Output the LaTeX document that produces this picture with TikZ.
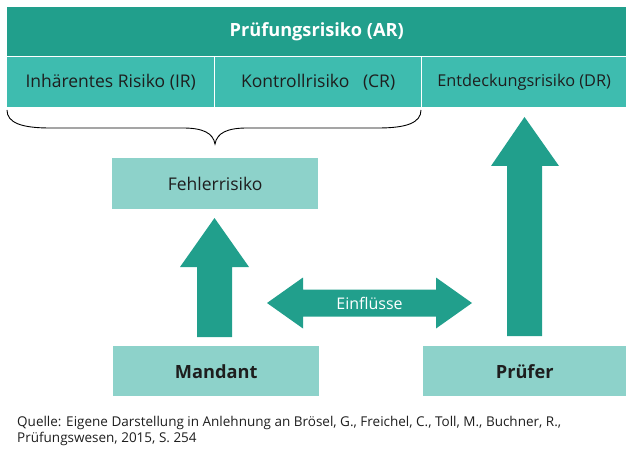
\documentclass[tikz,border=0pt]{standalone}
\usepackage{fontspec}
\setmainfont{Open Sans}
\usetikzlibrary{calc}
\definecolor{tealdark}{RGB}{33,159,140}
\definecolor{tealmid}{RGB}{62,188,175}
\definecolor{teallight}{RGB}{141,210,202}
\definecolor{txtdark}{RGB}{30,30,30}
\tikzset{
  cell/.style={rectangle, inner sep=0pt, anchor=north west},
  darkcell/.style={cell, fill=tealdark, text=white, font=\fontsize{18.2}{22}\selectfont\bfseries},
  midcell/.style={cell, fill=tealmid, text=txtdark, font=\fontsize{17.5}{21}\selectfont},
  lightbox/.style={cell, fill=teallight, text=txtdark, font=\fontsize{17.5}{21}\selectfont},
  boldbox/.style={lightbox, font=\fontsize{18.2}{22}\selectfont\bfseries},
  blockarrow/.style={fill=tealdark, draw=none},
  bracepath/.style={draw=black, line width=0.9pt},
  caption/.style={anchor=north west, inner sep=0pt, align=left, text=txtdark, font=\fontsize{13.5}{16}\selectfont}
}
\begin{document}
\begin{tikzpicture}[x=1pt,y=-1pt]
\useasboundingbox (0,0) rectangle (626,457);
% top bar
\node[darkcell, minimum width=619pt, minimum height=49pt] (AR) at (7,7) {Prüfungsrisiko (AR)};
% second row
\node[midcell, minimum width=207pt, minimum height=50pt] (IR) at (7,57) {Inhärentes Risiko (IR)};
\node[midcell, minimum width=206pt, minimum height=50pt] (CR) at (215,57) {Kontrollrisiko\ \ \ (CR)};
\node[midcell, minimum width=204pt, minimum height=50pt, font=\fontsize{16.3}{20}\selectfont] (DR) at (422,57) {Entdeckungsrisiko (DR)};
% brace
\coordinate (bl) at (7,110);
\coordinate (br) at (421,110);
\coordinate (btip) at (215,144);
\draw[bracepath] (bl) .. controls (7,123) and (22,128) .. (50,128) -- (183,128)
  .. controls (203,128) and (213,133) .. (btip)
  .. controls (217,133) and (227,128) .. (247,128) -- (378,128)
  .. controls (406,128) and (421,123) .. (br);
% boxes
\node[lightbox, minimum width=206pt, minimum height=51pt] (FR) at (112,158) {Fehlerrisiko};
\node[boldbox, minimum width=206pt, minimum height=50pt] (MA) at (113,346) {Mandant};
\node[boldbox, minimum width=203pt, minimum height=50pt] (PR) at (423,346) {Prüfer};
% left up arrow
\fill[blockarrow] (197,337) -- (197,267) -- (180,267) -- (214.5,218) -- (249,267) -- (232,267) -- (232,337) -- cycle;
% right up arrow
\fill[blockarrow] (507,336) -- (507,166) -- (491,166) -- (524.5,117) -- (559,166) -- (542,166) -- (542,336) -- cycle;
% double arrow
\fill[blockarrow] (267,303) -- (303,277.5) -- (303,289.5) -- (436,289.5) -- (436,277.5) -- (472,303)
  -- (436,328.5) -- (436,316.5) -- (303,316.5) -- (303,328.5) -- cycle;
\node[text=white, inner sep=0pt, font=\fontsize{16}{19}\selectfont] (EF) at (369.5,303) {Einflüsse};
% caption
\node[caption] (Q) at (17,416) {Quelle: Eigene Darstellung in Anlehnung an Brösel, G., Freichel, C., Toll, M., Buchner, R.,\\Prüfungswesen, 2015, S. 254};
\end{tikzpicture}
\end{document}
